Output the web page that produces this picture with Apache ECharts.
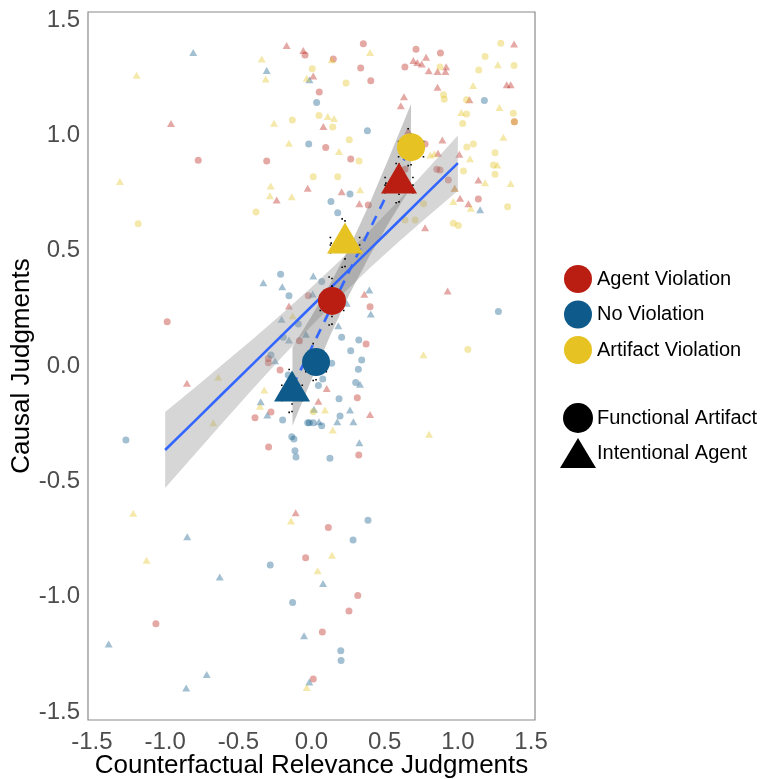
<!DOCTYPE html>
<html lang="en">
<head>
    <meta charset="UTF-8">
    <title>Causal vs Counterfactual Judgments</title>
    <script src="https://cdn.jsdelivr.net/npm/echarts@6.0.0/dist/echarts.min.js"></script>
</head>
<style>
    * { margin: 0; padding: 0; }
    html, body { width: 769px; height: 779px; background: #fff; }
    #main { width: 769px; height: 779px; }
</style>
<body>
<div id="main"></div>
<script>
    // tick labels
    var xTicks = [-1.5, -1.0, -0.5, 0.0, 0.5, 1.0, 1.5];
    var yTicks = [-1.5, -1.0, -0.5, 0.0, 0.5, 1.0, 1.5];

    var groups = ['Agent Violation', 'No Violation', 'Artifact Violation'];
    var shapes = ['Functional Artifact', 'Intentional Agent'];
    var groupColors = ['#BA1E12', '#0E5A8A', '#E6C222'];

    // individual responses [counterfactual, causal]
    var agentCircle = [[-0.044,1.349],[-0.774,0.892],[-0.306,0.889],[0.149,1.331],[0.336,1.292],[0.405,1.237],[0.053,1.188],[0.097,0.947],[0.268,0.898],[0.388,0.698],[0.354,1.397],[0.714,1.374],[0.881,1.357],[0.638,1.296],[1.386,1.059],[0.776,0.963],[0.856,0.853],[0.878,0.850],[0.935,0.806],[1.140,0.724],[-0.022,0.305],[-0.986,0.192],[-0.083,0.110],[-0.295,0.033],[-0.295,0.014],[-0.215,-0.017],[-0.277,-0.200],[-0.386,-0.224],[-0.293,-0.351],[0.400,0.257],[0.373,0.095],[0.313,-0.138],[0.323,-0.386],[-0.040,-0.831],[-1.063,-1.118],[0.115,-0.700],[0.316,-0.995],[0.256,-1.062],[0.074,-1.153],[0.012,-1.357],[0.639,0.853]];
    var agentTri = [[-0.170,1.390],[-0.056,1.368],[-0.960,1.051],[-0.238,0.720],[-0.026,0.771],[0.012,1.258],[0.081,1.038],[0.206,0.756],[0.327,0.703],[0.696,1.325],[0.723,1.316],[0.753,1.310],[0.783,1.339],[0.801,1.280],[0.861,1.277],[0.915,1.277],[0.920,1.298],[0.861,1.209],[0.632,1.168],[0.610,1.128],[1.079,1.154],[1.384,1.396],[1.334,1.220],[1.361,1.220],[0.894,0.980],[1.010,0.918],[0.864,0.923],[1.140,0.806],[0.978,0.771],[1.015,0.727],[1.072,0.703],[0.776,0.600],[-0.154,0.260],[-0.851,-0.075],[0.361,0.311],[0.930,0.325],[0.104,-0.098],[0.047,-0.153],[0.400,-0.210],[-0.108,-0.636],[0.660,1.020]];
    var noneCircle = [[-0.019,0.963],[0.035,1.143],[0.382,1.020],[0.263,0.746],[0.133,0.713],[0.179,0.665],[1.181,1.151],[-0.211,0.398],[-0.154,0.305],[-0.090,0.182],[-0.193,0.125],[-0.277,0.048],[-0.159,-0.039],[-0.197,-0.234],[-1.268,-0.321],[-0.135,-0.307],[-0.120,-0.317],[-0.113,-0.367],[-0.106,-0.395],[-0.026,-0.246],[0.070,0.366],[1.277,0.236],[0.206,0.125],[0.323,0.113],[0.268,0.066],[0.343,0.026],[0.138,0.012],[0.320,-0.014],[0.077,-0.056],[0.302,-0.072],[0.047,-0.085],[0.188,-0.142],[0.195,-0.217],[-0.015,-0.246],[0.012,-0.246],[0.070,-0.259],[0.126,-0.400],[-0.282,-0.863],[-0.129,-1.025],[0.386,-0.669],[0.284,-0.755],[0.200,-1.235],[0.202,-1.277]];
    var noneTri = [[-0.808,1.359],[-0.306,1.281],[-0.014,1.241],[1.152,0.677],[-0.329,0.361],[-0.200,0.344],[-0.204,0.203],[-0.154,0.113],[-0.038,0.138],[-0.249,0.023],[-0.347,-0.155],[-0.302,-0.213],[0.012,0.390],[0.395,0.330],[0.405,0.226],[0.241,0.272],[0.183,0.174],[0.331,-0.079],[0.017,-0.188],[0.263,-0.191],[0.051,-0.242],[0.176,-0.242],[0.286,-0.242],[0.327,-0.333],[0.008,0.312],[-0.849,-0.740],[-0.627,-0.915],[-1.386,-1.205],[-0.051,-1.170],[-0.716,-1.338],[-0.856,-1.396],[-0.015,-1.370],[0.079,-0.943]];
    var artCircle = [[-0.131,1.067],[-0.379,0.668],[-1.184,0.617],[0.005,1.289],[0.236,1.227],[0.051,1.086],[0.145,1.036],[0.258,0.981],[0.325,0.889],[0.012,0.821],[0.179,0.821],[0.878,1.296],[0.902,1.176],[0.907,1.157],[1.059,1.154],[1.293,1.400],[1.186,1.342],[1.384,1.303],[1.143,1.284],[1.379,1.096],[1.386,1.059],[1.059,1.093],[1.033,1.051],[1.061,0.950],[1.106,0.963],[1.254,0.925],[1.038,0.846],[1.243,0.872],[1.254,0.832],[1.340,0.691],[0.765,0.703],[0.708,0.633],[0.969,0.619],[1.003,0.609],[0.639,0.633],[1.068,0.072],[0.012,-0.198]];
    var artTri = [[-1.195,1.261],[-0.340,1.331],[-0.313,1.245],[-0.033,1.248],[-0.256,1.053],[-0.154,0.966],[-1.309,0.800],[-0.279,0.781],[-0.284,0.738],[-0.135,0.734],[0.400,1.359],[0.138,1.328],[0.111,1.082],[0.154,1.073],[0.188,0.930],[0.332,0.764],[1.273,1.306],[1.104,1.216],[1.284,1.121],[1.023,1.099],[1.311,0.992],[0.839,0.920],[0.812,0.915],[1.083,0.899],[1.270,0.872],[1.186,0.795],[1.361,0.791],[0.978,0.771],[0.969,0.713],[1.088,0.684],[-0.129,0.218],[-0.637,-0.049],[-0.323,-0.104],[-0.352,-0.174],[-0.671,-0.246],[0.765,0.049],[0.092,-0.191],[0.145,-0.278],[0.803,-0.296],[-1.218,-0.639],[-0.140,-0.672],[-1.127,-0.842],[-0.033,-1.394],[0.140,-0.821],[0.042,-0.888]];

    // condition means: [x, y, seX, seY]  (circle = functional artifact, triangle = intentional agent)
    var meanCircle = [[0.140, 0.282, 0.080, 0.104], [0.031, 0.017, 0.070, 0.080], [0.680, 0.949, 0.085, 0.080]];
    var meanTri = [[0.598, 0.793, 0.095, 0.085], [-0.133, -0.108, 0.070, 0.093], [0.229, 0.533, 0.100, 0.105]];

    // fit over all responses (solid) with its band
    var fitX = [-1.0, -0.8, -0.6, -0.4, -0.2, 0.0, 0.2, 0.4, 0.6, 0.8, 1.0];
    var fitY = [-0.364, -0.240, -0.115, 0.009, 0.134, 0.258, 0.382, 0.507, 0.631, 0.756, 0.880];
    var fitLo = [-0.529, -0.385, -0.241, -0.099, 0.040, 0.174, 0.303, 0.426, 0.541, 0.652, 0.760];
    var fitHi = [-0.199, -0.095, 0.011, 0.117, 0.228, 0.342, 0.461, 0.589, 0.721, 0.860, 1.000];

    // fit over condition means (dashed) with its band
    var meanFitX = [-0.13, 0.0, 0.13, 0.26, 0.40, 0.54, 0.68];
    var meanFitY = [-0.089, 0.079, 0.247, 0.414, 0.595, 0.776, 0.956];
    var meanFitLo = [-0.259, -0.058, 0.135, 0.312, 0.481, 0.633, 0.776];
    var meanFitHi = [0.081, 0.216, 0.359, 0.516, 0.709, 0.919, 1.136];

    var font = '"Liberation Sans", Arial, sans-serif';
    var chart = echarts.init(document.getElementById('main'));

    var zip = function (xs, ys) { return xs.map(function (x, i) { return [x, ys[i]]; }); };

    var bandSeries = function (xs, lo, hi, fill, z) {
        return {
            type: 'custom',
            silent: true,
            z: z,
            data: xs.map(function (x, i) { return [x, lo[i], hi[i]]; }),
            encode: { x: 0, y: [1, 2] },
            renderItem: function (params, api) {
                if (params.dataIndex !== 0) return;
                var pts = [];
                for (var i = 0; i < xs.length; i++) pts.push(api.coord([xs[i], hi[i]]));
                for (var j = xs.length - 1; j >= 0; j--) pts.push(api.coord([xs[j], lo[j]]));
                return { type: 'polygon', shape: { points: pts }, style: { fill: fill } };
            }
        };
    };

    var rawSeries = function (pts, color, symbol) {
        return {
            type: 'scatter',
            z: 1,
            silent: true,
            symbol: symbol,
            symbolSize: symbol == 'triangle' ? [8, 7] : 7,
            itemStyle: { color: color, opacity: 0.38 },
            data: pts
        };
    };

    // dotted error bars, both directions
    var errSeries = {
        type: 'custom',
        silent: true,
        z: 4,
        data: meanCircle.concat(meanTri),
        renderItem: function (params, api) {
            var x = api.value(0), y = api.value(1), sx = api.value(2), sy = api.value(3);
            var capW = 0.025, capH = 0.045;
            var segs = [
                [[x, y - sy], [x, y + sy]],
                [[x - capW, y + sy], [x + capW, y + sy]],
                [[x - capW, y - sy], [x + capW, y - sy]],
                [[x - sx, y], [x + sx, y]],
                [[x - sx, y - capH], [x - sx, y + capH]],
                [[x + sx, y - capH], [x + sx, y + capH]]
            ];
            return {
                type: 'group',
                children: segs.map(function (s) {
                    var a = api.coord(s[0]), b = api.coord(s[1]);
                    return {
                        type: 'line',
                        shape: { x1: a[0], y1: a[1], x2: b[0], y2: b[1] },
                        style: { stroke: '#000', lineWidth: 1.6, lineDash: [1.6, 6] }
                    };
                })
            };
        }
    };

    var series = [
        rawSeries(agentCircle, groupColors[0], 'circle'),
        rawSeries(agentTri, groupColors[0], 'triangle'),
        rawSeries(noneCircle, groupColors[1], 'circle'),
        rawSeries(noneTri, groupColors[1], 'triangle'),
        rawSeries(artCircle, groupColors[2], 'circle'),
        rawSeries(artTri, groupColors[2], 'triangle'),
        bandSeries(fitX, fitLo, fitHi, 'rgba(153,153,153,0.4)', 2),
        bandSeries(meanFitX, meanFitLo, meanFitHi, 'rgba(110,110,110,0.38)', 2),
        {
            type: 'line', z: 3, silent: true, symbol: 'none',
            data: zip(fitX, fitY),
            lineStyle: { color: '#3366FF', width: 2.6 }
        },
        {
            type: 'line', z: 3, silent: true, symbol: 'none',
            data: zip(meanFitX, meanFitY),
            lineStyle: { color: '#3366FF', width: 2.6, type: [10, 8] }
        },
        errSeries
    ];

    // big mean markers, one series per violation condition (also drives the legend)
    groups.forEach(function (g, i) {
        series.push({
            name: g,
            type: 'scatter',
            z: 5,
            itemStyle: { color: groupColors[i], opacity: 1 },
            data: [
                { value: [meanCircle[i][0], meanCircle[i][1]], symbol: 'circle', symbolSize: 28 },
                { value: [meanTri[i][0], meanTri[i][1]], symbol: 'triangle', symbolSize: [36, 31], symbolOffset: [0, -5] }
            ]
        });
    });
    // shape legend entries
    series.push({ name: shapes[0], type: 'scatter', itemStyle: { color: '#000', opacity: 1 }, data: [] });
    series.push({ name: shapes[1], type: 'scatter', itemStyle: { color: '#000', opacity: 1 }, data: [] });

    var option = {
        animation: false,
        textStyle: { fontFamily: font },
        grid: {
            left: 88, right: 234, top: 12, bottom: 59,
            outerBoundsMode: 'none',
            show: true, borderColor: '#8a8a8a', borderWidth: 1.2, backgroundColor: '#fff'
        },
        legend: [
            {
                data: groups, orient: 'vertical', left: 559, top: 260,
                icon: 'circle', itemWidth: 28, itemHeight: 28, itemGap: 7.5,
                selectedMode: false,
                textStyle: { fontSize: 20, color: '#000', fontFamily: font }
            },
            {
                data: [{ name: shapes[0], icon: 'circle' }, { name: shapes[1], icon: 'triangle' }],
                orient: 'vertical', left: 555, top: 398,
                itemWidth: 36, itemHeight: 30, itemGap: 5,
                selectedMode: false,
                textStyle: { fontSize: 20, color: '#000', fontFamily: font, padding: [0, 0, 0, -4] }
            }
        ],
        xAxis: {
            type: 'value', min: -1.527, max: 1.527,
            name: 'Counterfactual Relevance Judgments',
            nameLocation: 'middle', nameGap: 33, nameMoveOverlap: false,
            nameTextStyle: { fontSize: 26, color: '#000', fontFamily: font },
            axisLine: { show: false }, axisTick: { show: false }, splitLine: { show: false },
            axisLabel: {
                customValues: xTicks, margin: 10, fontSize: 24, color: '#4d4d4d', fontFamily: font,
                formatter: function (v) { return v.toFixed(1); }
            }
        },
        yAxis: {
            type: 'value', min: -1.535, max: 1.535,
            name: 'Causal Judgments',
            nameLocation: 'middle', nameGap: 53, nameMoveOverlap: false,
            nameTextStyle: { fontSize: 26, color: '#000', fontFamily: font },
            axisLine: { show: false }, axisTick: { show: false }, splitLine: { show: false },
            axisLabel: {
                customValues: yTicks, margin: 8, fontSize: 24, color: '#4d4d4d', fontFamily: font,
                formatter: function (v) { return v.toFixed(1); }
            }
        },
        series: series
    };
    chart.setOption(option);
</script>
</body>
</html>
